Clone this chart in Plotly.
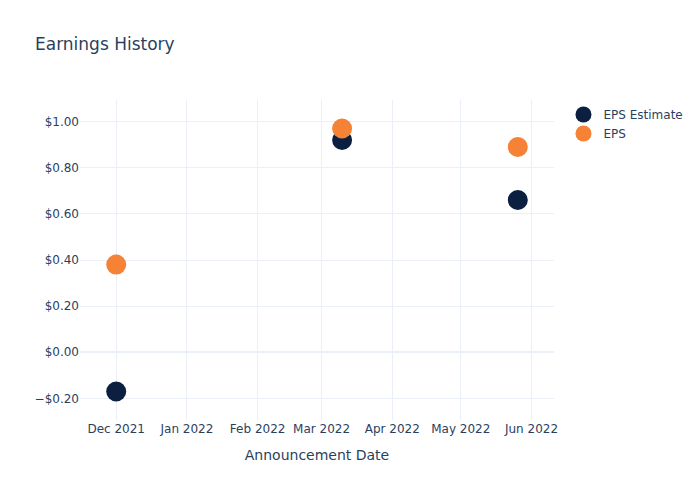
import plotly.graph_objects as go

dates = ["2021-12-01", "2022-03-10", "2022-05-26"]
eps_estimate = [-0.17, 0.92, 0.66]
eps_actual = [0.38, 0.97, 0.89]

fig = go.Figure()
fig.add_trace(go.Scatter(x=dates, y=eps_estimate, mode="markers", name="EPS Estimate",
                         marker=dict(color="#0b1f41", size=20)))
fig.add_trace(go.Scatter(x=dates, y=eps_actual, mode="markers", name="EPS",
                         marker=dict(color="#f58235", size=20)))
fig.update_layout(
    template="plotly_white",
    width=700, height=500,
    font=dict(family="DejaVu Sans"),
    title=dict(text="Earnings History"),
    xaxis=dict(title=dict(text="Announcement Date")),
    yaxis=dict(tickformat="$.2f"),
)
fig.write_html("out.html")
